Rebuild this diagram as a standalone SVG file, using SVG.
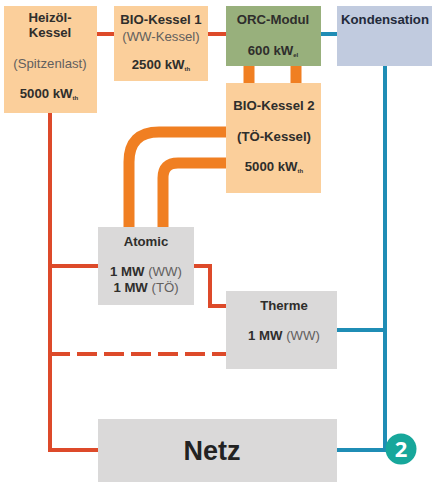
<svg xmlns="http://www.w3.org/2000/svg" width="432" height="482" viewBox="0 0 432 482">
<style>
text{font-family:"Liberation Sans",Arial,sans-serif;font-size:13.2px;text-anchor:middle;fill:#3a3a38}
.b{font-weight:bold;fill:#2f2e2c}
.r{fill:#62605e;font-weight:normal}
.s{font-size:6px}
.red{fill:none;stroke:#dd4a2a;stroke-width:4}
.blue{fill:none;stroke:#1f8db5;stroke-width:4}
.or{fill:none;stroke:#f07f22;stroke-width:11}
.peach{fill:#fbcf9b}
.grey{fill:#dad9d9}
</style>
<rect width="432" height="482" fill="#ffffff"/>
<g id="connectors">
<path class="or" d="M249 66V83M296 66V83"/>
<path class="or" d="M129 227V162Q129 132 159 132H226"/>
<path class="or" d="M163 227V178Q163 163 178 163H226"/>
<path class="red" d="M50 113V450H98M50 266H98M97 34H114M208 34H226M194 266H210V306H226"/>
<path class="red" d="M50 354H226" stroke-dasharray="20 7"/>
<path class="blue" d="M321 34H337M385 66V450H337M337 330H385"/>
</g>
<g id="heizoel"><rect class="peach" x="4" y="6" width="93" height="107"/>
<text class="b" x="50" y="22">Heizöl-</text><text class="b" x="50" y="37">Kessel</text><text class="r" x="50" y="68">(Spitzenlast)</text><text class="b" x="49" y="98">5000 kW<tspan class="s" dy="2">th</tspan></text></g>
<g id="bio1"><rect class="peach" x="114" y="6" width="94" height="75"/>
<text class="b" x="161" y="24">BIO-Kessel 1</text><text class="r" x="161" y="41">(WW-Kessel)</text><text class="b" x="161" y="69">2500 kW<tspan class="s" dy="2">th</tspan></text></g>
<g id="orc"><rect x="226" y="6" width="95" height="60" fill="#98b07c"/>
<text class="b" x="273" y="24">ORC-Modul</text><text class="b" x="273" y="55">600 kW<tspan class="s" dy="2">el</tspan></text></g>
<g id="kondensation"><rect x="337" y="6" width="95" height="60" fill="#c1cbdf"/>
<text class="b" x="385" y="24" style="fill:#232a3a">Kondensation</text></g>
<g id="bio2"><rect class="peach" x="226" y="83" width="95" height="110"/>
<text class="b" x="274" y="110">BIO-Kessel 2</text><text class="b" x="274" y="141">(TÖ-Kessel)</text><text class="b" x="274" y="171">5000 kW<tspan class="s" dy="2">th</tspan></text></g>
<g id="atomic"><rect class="grey" x="98" y="227" width="96" height="78"/>
<text class="b" x="146" y="246">Atomic</text><text x="146" y="276"><tspan class="b">1 MW</tspan><tspan class="r"> (WW)</tspan></text><text x="146" y="292"><tspan class="b">1 MW</tspan><tspan class="r"> (TÖ)</tspan></text></g>
<g id="therme"><rect class="grey" x="226" y="291" width="111" height="78"/>
<text class="b" x="284" y="310">Therme</text><text x="284" y="340"><tspan class="b">1 MW</tspan><tspan class="r"> (WW)</tspan></text></g>
<g id="netz"><rect class="grey" x="98" y="419" width="239" height="63"/>
<text class="b" x="212" y="460" style="font-size:27px;fill:#222">Netz</text></g>
<g id="badge"><circle cx="401" cy="449" r="15.5" fill="#17a79b"/>
<text x="401" y="457" style="font-size:22px;font-weight:bold;fill:#fff;font-family:'Open Sans','Liberation Sans',sans-serif">2</text></g>
</svg>
